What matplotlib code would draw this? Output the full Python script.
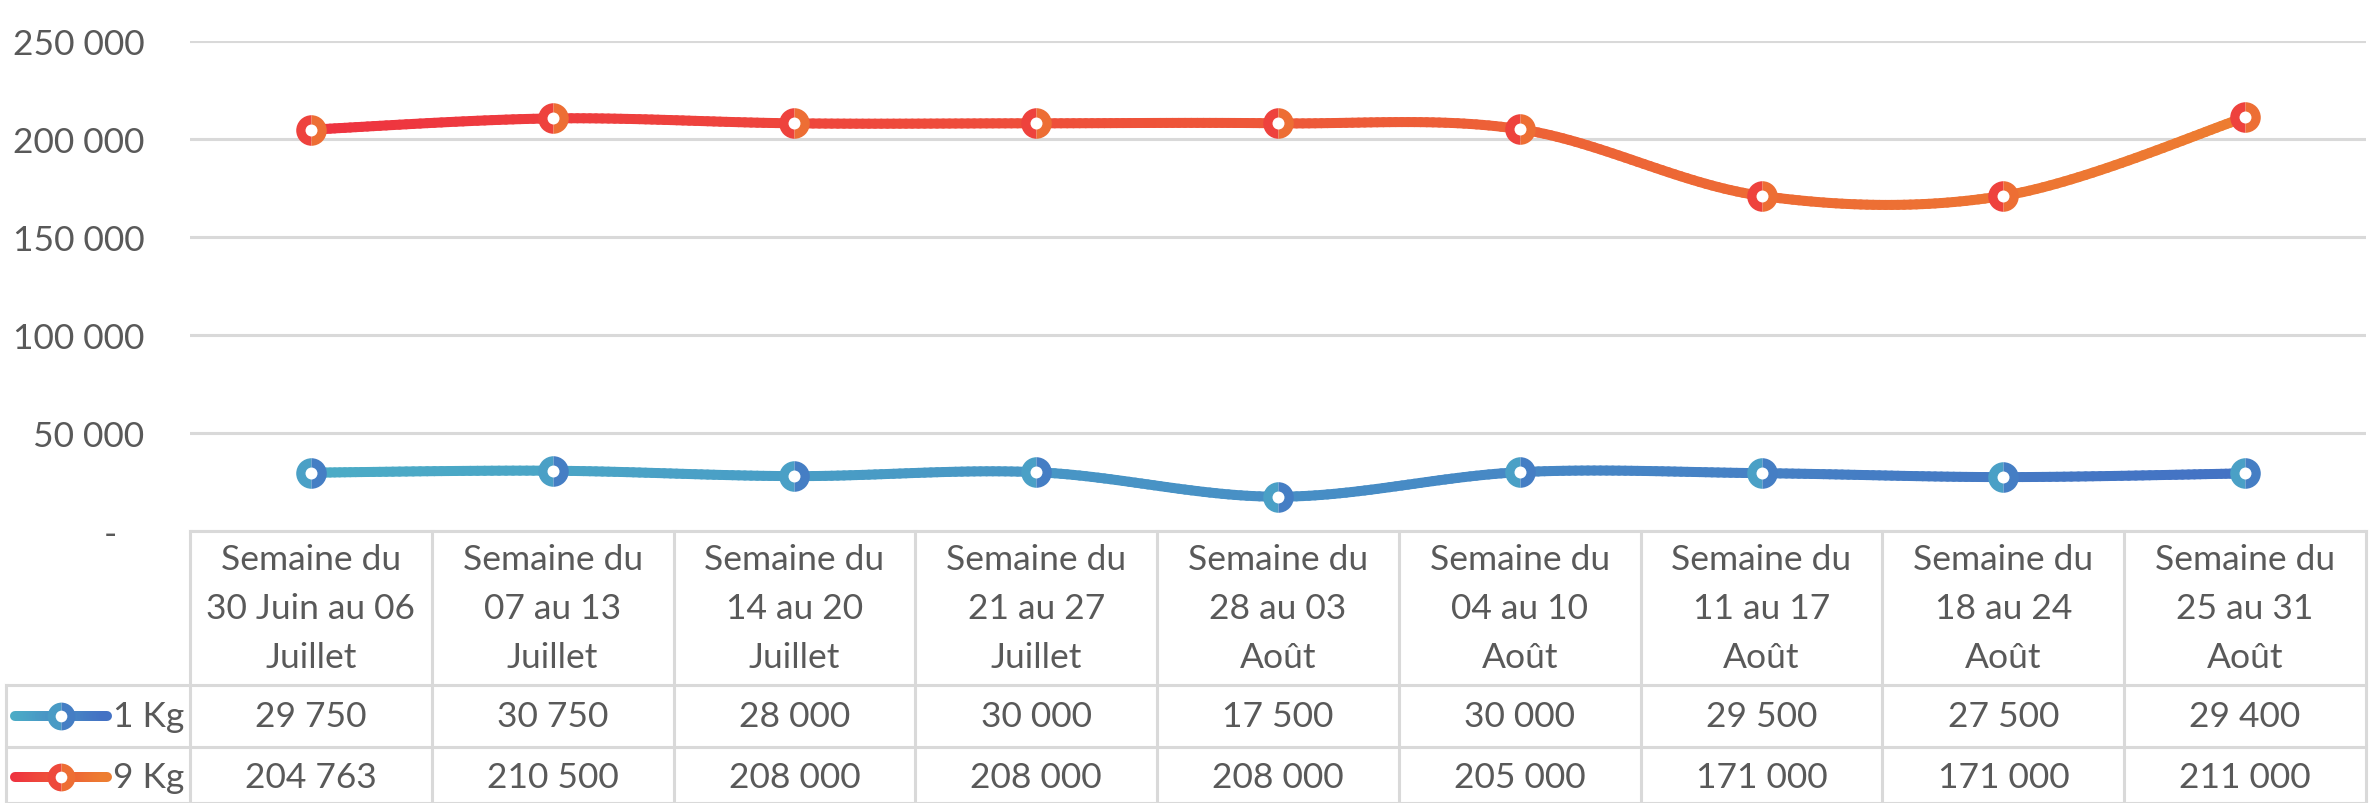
import numpy as np
import matplotlib.pyplot as plt
from matplotlib.collections import LineCollection
from matplotlib.colors import to_rgb
from matplotlib.lines import Line2D
from matplotlib.transforms import blended_transform_factory

plt.rcParams['font.family'] = ['Lato', 'DejaVu Sans']

# data
weeks = ['Semaine du\n30 Juin au 06\nJuillet', 'Semaine du\n07 au 13\nJuillet',
         'Semaine du\n14 au 20\nJuillet', 'Semaine du\n21 au 27\nJuillet',
         'Semaine du\n28 au 03\nAoût', 'Semaine du\n04 au 10\nAoût',
         'Semaine du\n11 au 17\nAoût', 'Semaine du\n18 au 24\nAoût',
         'Semaine du\n25 au 31\nAoût']
kg1 = [29750, 30750, 28000, 30000, 17500, 30000, 29500, 27500, 29400]
kg9 = [204763, 210500, 208000, 208000, 208000, 205000, 171000, 171000, 211000]
series_names = ['1 Kg', '9 Kg']
y_ticks = [0, 50000, 100000, 150000, 200000, 250000]

grads = [('#4BACC6', '#4472C4'), ('#EE3340', '#ED7D31')]
text_col = '#595959'
grid_col = '#D9D9D9'
fs = 25.5

W, H = 2370, 804
fig = plt.figure(figsize=(W / 100, H / 100), dpi=100)


def px(x):
    return x / W


def py(y):
    return 1 - y / H


ax = fig.add_axes([px(190), py(532), px(2366 - 190), (532 - 42) / H])
ax.set_xlim(-0.5, len(weeks) - 0.5)
ax.set_ylim(0, 250000)
for s in ax.spines.values():
    s.set_visible(False)
ax.set_xticks([])
ax.set_yticks(y_ticks)
ax.set_yticklabels(['-   ' if v == 0 else f'{v:,}'.replace(',', ' ') for v in y_ticks])
ax.tick_params(axis='y', length=0, pad=33, labelsize=fs, labelcolor=text_col)
ax.grid(axis='y', color=grid_col, lw=2.2)
ax.set_axisbelow(True)


def mix(c0, c1, t):
    a, b = np.array(to_rgb(c0)), np.array(to_rgb(c1))
    return a + (b - a) * t


def smooth(x, y, n=40):
    # excel style smoothing (catmull-rom / bezier)
    p = np.column_stack([x, y]).astype(float)
    pp = np.vstack([p[0], p, p[-1]])
    out = []
    for i in range(len(p) - 1):
        p0, p1, p2, p3 = pp[i], pp[i + 1], pp[i + 2], pp[i + 3]
        c1 = p1 + (p2 - p0) / 6
        c2 = p2 - (p3 - p1) / 6
        t = np.linspace(0, 1, n)[:, None]
        seg = (1 - t) ** 3 * p1 + 3 * (1 - t) ** 2 * t * c1 + 3 * (1 - t) * t ** 2 * c2 + t ** 3 * p2
        out.append(seg if i == 0 else seg[1:])
    return np.vstack(out)


xs = np.arange(len(weeks))
for vals, (c0, c1) in zip([kg1, kg9], grads):
    curve = smooth(xs, vals)
    segs = np.stack([curve[:-1], curve[1:]], axis=1)
    tpos = (segs[:, 0, 0] + segs[:, 1, 0]) / 2 / (len(weeks) - 1)
    lc = LineCollection(segs, colors=[mix(c0, c1, t) for t in tpos], linewidths=7.2,
                        capstyle='round', zorder=3)
    ax.add_collection(lc)
    ax.plot(xs, vals, 'o', ms=22, fillstyle='left', mfc=mix(c0, c1, 0.2),
            mfcalt=mix(c0, c1, 0.8), mew=0, zorder=4)
    ax.plot(xs, vals, 'o', ms=8.6, color='white', mew=0, zorder=5)

# data table
trans = blended_transform_factory(ax.transData, fig.transFigure)
lw_t = 2.2
fig.add_artist(Line2D([px(190), px(2366)], [py(532), py(532)], transform=fig.transFigure,
                      color=grid_col, lw=lw_t))
for yy in [686, 748, 804]:
    fig.add_artist(Line2D([px(6), px(2366)], [py(yy), py(yy)], transform=fig.transFigure,
                          color=grid_col, lw=lw_t))
fig.add_artist(Line2D([px(6), px(6)], [py(686), py(804)], transform=fig.transFigure,
                      color=grid_col, lw=lw_t))
for k in range(len(weeks) + 1):
    fig.add_artist(Line2D([k - 0.5, k - 0.5], [py(532), py(804)], transform=trans,
                          color=grid_col, lw=lw_t))

for i, w in enumerate(weeks):
    for j, line in enumerate(w.split('\n')):
        ax.text(i, py(560 + 49 * j), line, transform=trans, ha='center', va='center',
                fontsize=fs, color=text_col)
row_y = [717, 778]
for vals, ry in zip([kg1, kg9], row_y):
    for i, v in enumerate(vals):
        ax.text(i, py(ry), f'{v:,}'.replace(',', ' '), transform=trans, ha='center',
                va='center', fontsize=fs, color=text_col)

# legend keys inside the table
for name, ry, (c0, c1) in zip(series_names, row_y, grads):
    kx = np.linspace(15, 107, 30)
    ksegs = [[(px(kx[i]), py(ry)), (px(kx[i + 1]), py(ry))] for i in range(len(kx) - 1)]
    fig.add_artist(LineCollection(ksegs, colors=[mix(c0, c1, i / 28) for i in range(29)],
                                  linewidths=7.2, capstyle='round', transform=fig.transFigure))
    fig.add_artist(Line2D([px(61)], [py(ry)], marker='o', ms=20, fillstyle='left',
                          mfc=mix(c0, c1, 0.3), mfcalt=mix(c0, c1, 0.8), mew=0,
                          transform=fig.transFigure))
    fig.add_artist(Line2D([px(61)], [py(ry)], marker='o', ms=8.4, color='white', mew=0,
                          transform=fig.transFigure))
    fig.text(px(113), py(ry), name, ha='left', va='center', fontsize=fs, color=text_col)

fig.savefig('out.png', dpi=100)
